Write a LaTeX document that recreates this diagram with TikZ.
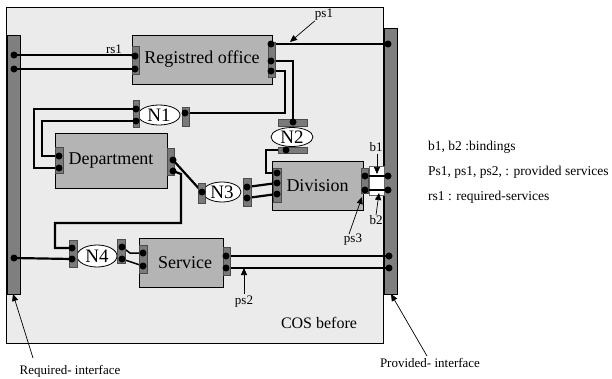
\documentclass[tikz,border=0pt]{standalone}
\usepackage{fontspec}
\setmainfont{Liberation Serif}
\usetikzlibrary{arrows.meta,shapes.geometric}
\definecolor{cosbg}{HTML}{EBEBEB}
\definecolor{compfill}{HTML}{B4B4B4}
\definecolor{barfill}{HTML}{7F7F7F}
\definecolor{portfill}{HTML}{7A7A7A}
\pgfdeclarelayer{back}
\pgfdeclarelayer{wires}
\pgfsetlayers{back,wires,main}
\begin{document}
\begin{tikzpicture}[x=1pt,y=-1pt,
  comp/.style={draw=black, line width=0.8pt, fill=compfill, inner sep=0pt,
    font=\fontsize{18}{20}\selectfont},
  port/.style={draw=black!70, line width=0.5pt, fill=portfill, inner sep=0pt},
  conn/.style={draw=black, line width=0.8pt, fill=white, ellipse, inner sep=0pt,
    font=\fontsize{19}{21}\selectfont},
  dot/.style={circle, fill=black, inner sep=0pt, minimum size=7pt},
  wire/.style={line width=2.2pt, line join=miter},
  thinwire/.style={line width=1.5pt},
  ptr/.style={line width=0.7pt, -{Triangle[length=7pt,width=6pt]}},
  lbl/.style={inner sep=0pt, font=\fontsize{13}{15}\selectfont},
  legend/.style={inner sep=0pt, anchor=west, font=\fontsize{13.5}{16}\selectfont}]
\useasboundingbox (0,0) rectangle (612,378);

% ---------- background: composite, interfaces ----------
\begin{pgfonlayer}{back}
  \draw[line width=0.8pt, fill=cosbg] (6,7) rectangle (383,343);
  \draw[line width=0.6pt, fill=barfill] (7,35) rectangle (20,294);
  \draw[line width=0.6pt, fill=barfill] (384,28) rectangle (397,294);
  \draw[line width=0.5pt, draw=black!60, fill=white] (369,166) rectangle (384,195);
\end{pgfonlayer}
\node[coordinate] (reqbar) at (13,294) {};
\node[coordinate] (provbar) at (391,294) {};

% ---------- components ----------
\node[comp, minimum width=140pt, minimum height=49pt] (ro) at (202,59.5) {Registred office};
\node[comp, minimum width=112pt, minimum height=55pt] (dep) at (111,160.5) {Department};
\node[comp, minimum width=91pt, minimum height=49pt] (div) at (317.5,185.5) {Division};
\node[comp, minimum width=84pt, minimum height=49pt] (ser) at (181,262.5) {\hspace{8pt}Service};

% ---------- connectors (ellipses) ----------
\node[conn, minimum width=42pt, minimum height=20pt] (n1) at (159,115) {N1};
\node[conn, minimum width=42pt, minimum height=19pt] (n2) at (292,137) {N2};
\node[conn, minimum width=38pt, minimum height=20pt] (n3) at (222,192) {N3};
\node[conn, minimum width=40pt, minimum height=22pt] (n4) at (97,256) {N4};

% ---------- ports ----------
\node[port, minimum width=7pt, minimum height=28pt] (pRoL) at (135.5,60) {};
\node[port, minimum width=7pt, minimum height=35pt] (pRoR) at (271.5,59.5) {};
\node[port, minimum width=6pt, minimum height=27pt] (pN1L) at (136,113.5) {};
\node[port, minimum width=7pt, minimum height=19pt] (pN1R) at (185.5,116.5) {};
\node[port, minimum width=29pt, minimum height=7pt] (pN2T) at (292.5,122.5) {};
\node[port, minimum width=29pt, minimum height=6pt] (pN2B) at (292.5,150) {};
\node[port, minimum width=8pt, minimum height=26pt] (pDeL) at (59,160) {};
\node[port, minimum width=7pt, minimum height=27pt] (pDeR) at (170.5,161.5) {};
\node[port, minimum width=7pt, minimum height=20pt] (pN3L) at (201.5,193) {};
\node[port, minimum width=8pt, minimum height=28pt] (pN3R) at (247,192) {};
\node[port, minimum width=8pt, minimum height=34pt] (pDvL) at (277,185) {};
\node[port, minimum width=7pt, minimum height=25pt] (pDvR) at (364.5,180.5) {};
\node[port, minimum width=8pt, minimum height=27pt] (pN4L) at (73,253.5) {};
\node[port, minimum width=8pt, minimum height=24pt] (pN4R) at (121.5,251) {};
\node[port, minimum width=8pt, minimum height=28pt] (pSeL) at (143,259) {};
\node[port, minimum width=7pt, minimum height=28pt] (pSeR) at (226.5,261) {};

% ---------- dots ----------
\node[dot] (L1) at (14,55) {};
\node[dot] (L2) at (14,69) {};
\node[dot] (L3) at (14,258) {};
\node[dot] (ROa) at (135,56) {};
\node[dot] (ROb) at (135,69) {};
\node[dot] (ROr1) at (271,44) {};
\node[dot] (ROr2) at (271,61) {};
\node[dot] (ROr3) at (271,71) {};
\node[dot] (R1) at (388,44) {};
\node[dot] (N1a) at (136,109) {};
\node[dot] (N1b) at (136,121) {};
\node[dot] (N1r) at (185,113) {};
\node[dot] (N2t) at (293,122) {};
\node[dot] (N2b) at (286,150) {};
\node[dot] (Da) at (59,156) {};
\node[dot] (Db) at (59,168) {};
\node[dot] (Dr1) at (173,160) {};
\node[dot] (Dr2) at (173,171) {};
\node[dot] (N3l) at (202,192) {};
\node[dot] (N3r1) at (247,187) {};
\node[dot] (N3r2) at (247,198) {};
\node[dot] (Dv1) at (277,173) {};
\node[dot] (Dv2) at (277,183) {};
\node[dot] (Dv3) at (277,194) {};
\node[dot] (Dvr1) at (365,176) {};
\node[dot] (Dvr2) at (365,190) {};
\node[dot] (B1) at (388,176) {};
\node[dot] (B2) at (388,190) {};
\node[dot] (N4l1) at (72,248) {};
\node[dot] (N4l2) at (72,259) {};
\node[dot] (N4r1) at (122,247) {};
\node[dot] (N4r2) at (122,259) {};
\node[dot] (S1) at (143,253) {};
\node[dot] (S2) at (143,266) {};
\node[dot] (Sr1) at (226,256) {};
\node[dot] (Sr2) at (226,268) {};
\node[dot] (R3) at (389,256) {};
\node[dot] (R4) at (389,268) {};

% ---------- wires ----------
\begin{pgfonlayer}{wires}
  \draw[wire] (L1.center) -- (L1.center -| ROa.center);
  \draw[wire] (L2.center) -- (ROb.center);
  \draw[wire] (ROr1.center) -- (R1.center);
  \draw[wire] (ROr2.center) -| (N2t.center);
  \draw[wire] (ROr3.center) -- (285,71) |- (N1r.center);
  \draw[wire] (N1a.center) -- (34,109) |- (Db.center);
  \draw[wire] (N1b.center) -- (42,121) |- (Da.center);
  \draw[wire] (Dr1.center) -- (N3l.center);
  \draw[wire] (Dr2.center) -- (181,174) -- (181,223) -- (55,223) |- (N4l1.center);
  \draw[wire] (N2b.center) -- (266,150) |- (Dv1.center);
  \draw[wire] (N3r1.center) -- (Dv2.center);
  \draw[wire] (N3r2.center) -- (Dv3.center);
  \draw[wire] (Dvr1.center) -- (B1.center);
  \draw[wire] (Dvr2.center) -- (B2.center);
  \draw[wire] (L3.center) -- (N4l2.center);
  \draw[thinwire] (N4r1.center) -- (130,253) -- (S1.center);
  \draw[thinwire] (N4r2.center) -- (S2.center);
  \draw[wire] (Sr1.center) -- (R3.center);
  \draw[wire] (Sr2.center) -- (R4.center);
\end{pgfonlayer}

% ---------- labels and pointers ----------
\node[lbl] (rs1) at (114,49) {rs1};
\node[lbl] (ps1) at (324,15) {ps1};
\draw[ptr] (ps1.south west) -- (290,42);
\node[lbl] (b1) at (376,147) {b1};
\draw[ptr] (b1.south) ++(1,2) -- (377,174);
\node[lbl] (b2) at (376,220) {b2};
\draw[ptr] (b2.north) -- (379,193);
\node[lbl] (ps3) at (353,240) {ps3};
\draw[ptr] (ps3.north) ++(-4,0) -- (362,197);
\node[lbl] (ps2) at (244,302) {ps2};
\draw[ptr] (ps2.north) ++(0,-2) -- (244,268);

\node[inner sep=0pt, font=\fontsize{16}{18}\selectfont] (cos) at (319,323) {COS before};

\node[lbl] (reqlbl) at (70,371) {Required- interface};
\draw[line width=0.7pt, -{Triangle[length=7pt,width=6pt]}] (33,358) -- (reqbar);
\node[lbl] (provlbl) at (430,363) {Provided- interface};
\draw[line width=0.7pt, -{Triangle[length=7pt,width=6pt]}] (427,356) -- (provbar);

% ---------- legend ----------
\node[legend] (lg1) at (428,147) {b1, b2 :bindings};
\node[legend] (lg2) at (428,172) {Ps1, ps1, ps2, : provided services};
\node[legend] (lg3) at (428,197) {rs1 : required-services};
\end{tikzpicture}
\end{document}
